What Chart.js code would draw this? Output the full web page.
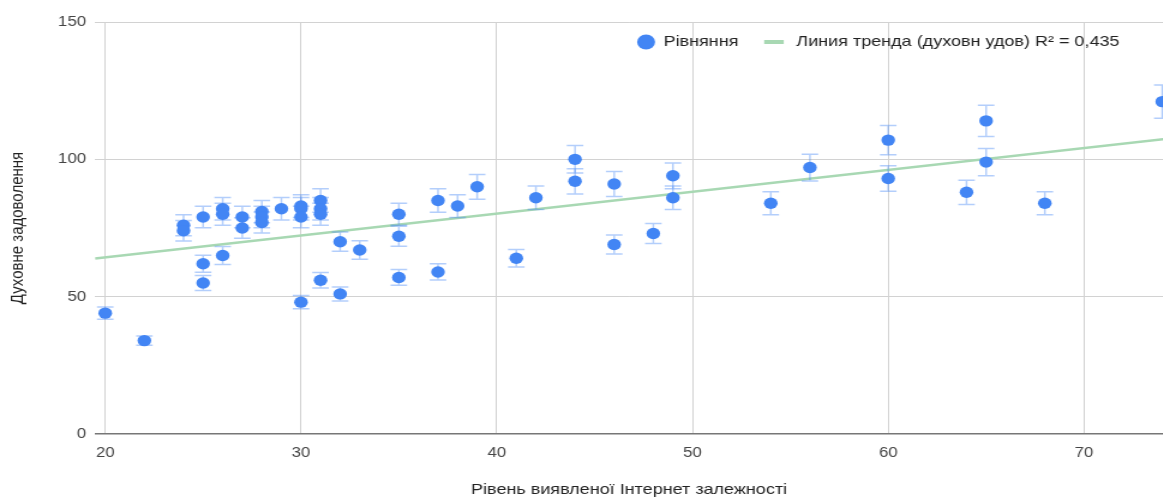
<!DOCTYPE html>
<html>
<head>
<meta charset="utf-8">
<title>Духовне задоволення</title>
<script src="https://cdn.jsdelivr.net/npm/chart.js@4.4.1/dist/chart.umd.min.js"></script>
<style>
  html, body { margin: 0; padding: 0; background: #fff; overflow: hidden; }
  /* the chart is laid out on a narrower canvas and widened horizontally */
  #wrap { width: 969.17px; height: 497px; position: relative;
          transform: scaleX(1.2); transform-origin: 0 0; }
</style>
</head>
<body>
<div id="wrap"><canvas id="chart"></canvas></div>
<script>
// Рівень виявленої Інтернет залежності (x) and Духовне задоволення (y)
const addiction = [20, 22, 24, 24, 25, 25, 25, 26, 26, 26, 27, 27, 28, 28, 28, 29,
  30, 30, 30, 30, 31, 31, 31, 31, 32, 32, 33, 35, 35, 35, 37, 37, 38, 39, 41, 42,
  44, 44, 46, 46, 48, 49, 49, 54, 56, 60, 60, 64, 65, 65, 68, 74];
const satisfaction = [44, 34, 76, 74, 79, 62, 55, 82, 80, 65, 79, 75, 81, 79, 77, 82,
  83, 82, 79, 48, 85, 82, 80, 56, 70, 51, 67, 80, 72, 57, 85, 59, 83, 90, 64, 86,
  100, 92, 91, 69, 73, 94, 86, 84, 97, 107, 93, 88, 114, 99, 84, 121];

// Trend line end points (x, y)
const trendX = [19.48, 74.04];
const trendY = [63.9, 107.3];

// Axis tick values
const xTicks = [20, 30, 40, 50, 60, 70];
const yTicks = [0, 50, 100, 150];

// Error bars: ±5 % of each value
const errorPercent = 5;

const pointColor = '#4285f4';
const errorColor = 'rgba(66, 133, 244, 0.4)';
const trendColor = '#a8d8b3';
const FONT = "'Liberation Sans', Arial, sans-serif";

const points = addiction.map((x, i) => ({ x, y: satisfaction[i] }));
const trend = trendX.map((x, i) => ({ x, y: trendY[i] }));

// Vertical error bars with caps, drawn under the scatter points
const errorBars = {
  id: 'errorBars',
  beforeDatasetDraw(chart, args) {
    if (args.index !== 0) return;
    const { ctx } = chart;
    const yScale = chart.scales.y;
    const data = chart.data.datasets[0].data;
    const cap = 6.9;
    ctx.save();
    ctx.strokeStyle = errorColor;
    ctx.lineWidth = 1.5;
    args.meta.data.forEach((el, i) => {
      const v = data[i].y;
      const d = v * errorPercent / 100;
      const top = yScale.getPixelForValue(v + d);
      const bot = yScale.getPixelForValue(v - d);
      const x = el.x;
      ctx.beginPath();
      ctx.moveTo(x, top); ctx.lineTo(x, bot);
      ctx.moveTo(x - cap, top); ctx.lineTo(x + cap, top);
      ctx.moveTo(x - cap, bot); ctx.lineTo(x + cap, bot);
      ctx.stroke();
    });
    ctx.restore();
  }
};

// Legend placed inside the plot, top right
const insideLegend = {
  id: 'insideLegend',
  afterDraw(chart) {
    const { ctx, chartArea } = chart;
    const ds = chart.data.datasets;
    const cy = chartArea.top + 20;
    let x = chartArea.left + 459.2;
    ctx.save();
    ctx.font = '15px ' + FONT;
    ctx.textBaseline = 'middle';
    ctx.fillStyle = ds[0].backgroundColor;
    ctx.beginPath();
    ctx.arc(x, cy, 7.5, 0, Math.PI * 2);
    ctx.fill();
    x += 14.5;
    ctx.fillStyle = '#222';
    ctx.fillText(ds[0].label, x, cy);
    x += ctx.measureText(ds[0].label).width + 21.5;
    ctx.strokeStyle = ds[1].borderColor;
    ctx.lineWidth = 4;
    ctx.beginPath();
    ctx.moveTo(x, cy); ctx.lineTo(x + 16.3, cy);
    ctx.stroke();
    x += 26.8;
    ctx.fillStyle = '#222';
    ctx.fillText(ds[1].label, x, cy);
    ctx.restore();
  }
};

new Chart(document.getElementById('chart'), {
  type: 'scatter',
  data: {
    datasets: [
      {
        label: 'Рівняння',
        data: points,
        backgroundColor: pointColor,
        borderColor: pointColor,
        pointRadius: 5.7,
        pointHoverRadius: 5.7,
        borderWidth: 0,
        order: 1
      },
      {
        type: 'line',
        label: 'Линия тренда (духовн удов) R² = 0,435',
        data: trend,
        borderColor: trendColor,
        borderWidth: 2.5,
        pointRadius: 0,
        fill: false,
        order: 2
      }
    ]
  },
  options: {
    responsive: true,
    maintainAspectRatio: false,
    animation: false,
    layout: { autoPadding: false, padding: { top: 22, left: 0, right: 0, bottom: 0 } },
    plugins: {
      legend: { display: false },
      tooltip: { enabled: false }
    },
    scales: {
      x: {
        type: 'linear',
        min: 19.48,
        max: 74.04,
        afterBuildTicks: s => { s.ticks = xTicks.map(v => ({ value: v })); },
        afterFit: s => { s.height = 63; s.paddingLeft = 0; s.paddingRight = 0; },
        grid: { color: '#d2d2d2', drawTicks: false },
        border: { display: false },
        ticks: { font: { family: FONT, size: 14 }, color: '#444', padding: 11 },
        title: {
          display: true,
          text: 'Рівень виявленої Інтернет залежності',
          font: { family: FONT, size: 15 },
          color: '#222',
          padding: { top: 0, bottom: -2 }
        }
      },
      y: {
        min: 0,
        max: 150,
        afterBuildTicks: s => { s.ticks = yTicks.map(v => ({ value: v })); },
        afterFit: s => { s.width = 79.2; },
        grid: {
          color: c => (c.tick && c.tick.value === 0) ? '#777' : '#d2d2d2',
          lineWidth: c => (c.tick && c.tick.value === 0) ? 1.5 : 1,
          drawTicks: false
        },
        border: { display: false },
        ticks: { font: { family: FONT, size: 14 }, color: '#444', padding: 7.5 },
        title: {
          display: true,
          text: 'Духовне задоволення',
          font: { family: FONT, size: 15 },
          color: '#222',
          padding: { top: 6, bottom: 0 }
        }
      }
    }
  },
  plugins: [errorBars, insideLegend]
});
</script>
</body>
</html>
